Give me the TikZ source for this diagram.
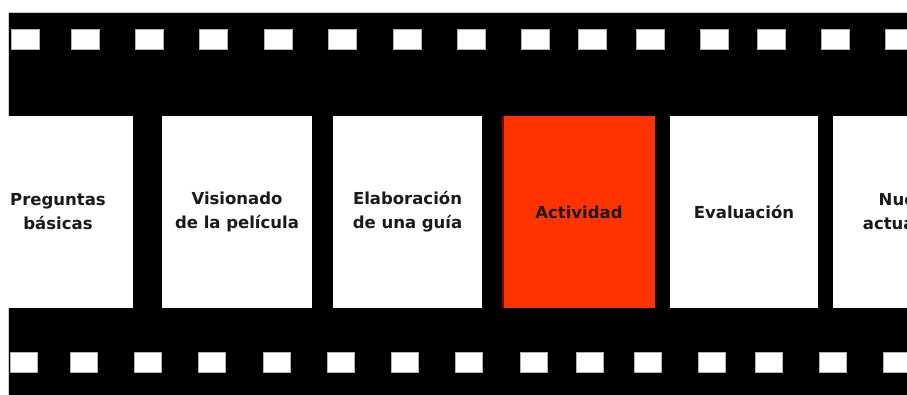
\documentclass[tikz,border=0pt]{standalone}
\usepackage{fontspec}
\setmainfont{DejaVu Sans}
\definecolor{filmred}{HTML}{FF3300}
\definecolor{filmtext}{HTML}{1A1A1A}
\tikzset{
  frame/.style={fill=white, minimum height=192pt, inner sep=0pt, align=center,
    text=filmtext, font=\fontsize{16.5}{24}\selectfont\bfseries},
  hole/.style={fill=white, draw=gray!60, line width=0.4pt}
}

\begin{document}
\begin{tikzpicture}[x=1pt,y=-1pt]
            \clip (0,0) rectangle (907,394);
            \fill[white] (0,0) rectangle (907,394);
            \fill[black, draw=gray!40] (8,12) rectangle (920,400);

            \foreach \x in {11,71,135,199,264,328,393,457,521,578,636,700,757,821,885}
              \filldraw[hole] (\x,29) rectangle +(28,20);
            \foreach \x in {10,70,134,198,263,327,391,455,520,576,634,698,755,819,883}
              \filldraw[hole] (\x,352) rectangle +(27,20);

            \node[frame, minimum width=150pt] (preguntas) at (58,212) {Preguntas\\básicas};
            \node[frame, minimum width=150pt] (visionado) at (237,212) {Visionado\\de la película};
            \node[frame, minimum width=149pt] (guia) at (407.5,212) {Elaboración\\de una guía};
            \node[frame, minimum width=152pt, fill=filmred] (actividad) at (579,212) {Actividad};
            \node[frame, minimum width=148pt] (evaluacion) at (744,212) {Evaluación};
            \node[frame, minimum width=150pt] (nueva) at (908,212) {Nueva\\actuación};

            \draw[red!50!black, line width=1.5pt] (actividad.north west) -- (actividad.south west);

         \end{tikzpicture}
\end{document}
